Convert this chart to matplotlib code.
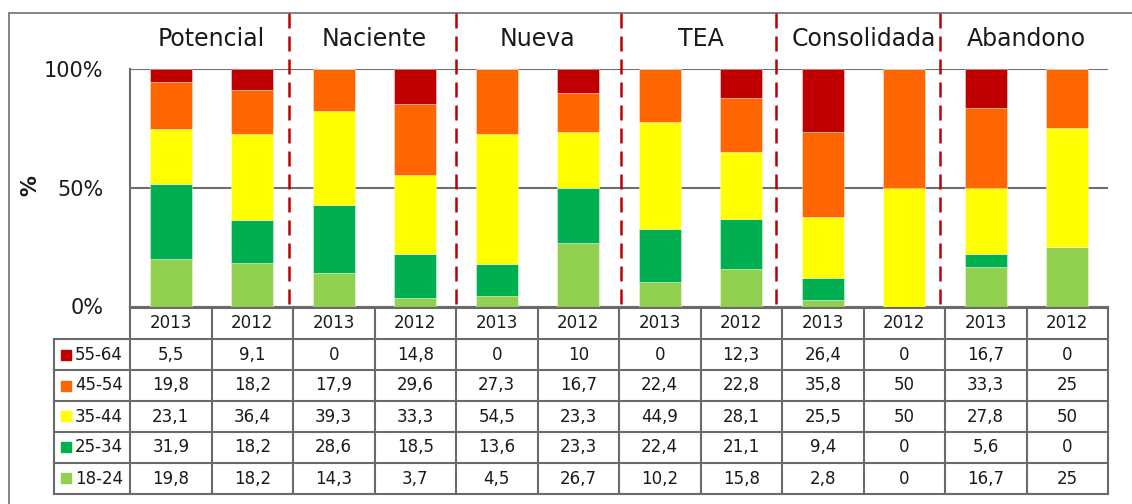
import matplotlib
matplotlib.use("Agg")
import matplotlib.pyplot as plt
from matplotlib.patches import Rectangle
from matplotlib.lines import Line2D

groups = ["Potencial", "Naciente", "Nueva", "TEA", "Consolidada", "Abandono"]
years = ["2013", "2012"] * 6
age_labels = ["55-64", "45-54", "35-44", "25-34", "18-24"]
age_colors = ["#C00000", "#FF6600", "#FFFF00", "#00B050", "#92D050"]

v_55_64 = [5.5, 9.1, 0, 14.8, 0, 10, 0, 12.3, 26.4, 0, 16.7, 0]
v_45_54 = [19.8, 18.2, 17.9, 29.6, 27.3, 16.7, 22.4, 22.8, 35.8, 50, 33.3, 25]
v_35_44 = [23.1, 36.4, 39.3, 33.3, 54.5, 23.3, 44.9, 28.1, 25.5, 50, 27.8, 50]
v_25_34 = [31.9, 18.2, 28.6, 18.5, 13.6, 23.3, 22.4, 21.1, 9.4, 0, 5.6, 0]
v_18_24 = [19.8, 18.2, 14.3, 3.7, 4.5, 26.7, 10.2, 15.8, 2.8, 0, 16.7, 25]
series = [v_55_64, v_45_54, v_35_44, v_25_34, v_18_24]

def fmt(v):
    s = ("%g" % v).replace(".", ",")
    return s

W, H = 1132, 504
fig = plt.figure(figsize=(W / 100, H / 100), dpi=100)
plt.rcParams['font.family'] = ['DejaVu Sans']
txtc = "#1a1a1a"
gridc = "#6e6e6e"

def fx(px):
    return px / W

def fy(py):
    return 1 - py / H

# outer frame
fig.patches.append(Rectangle((fx(9), fy(520)), fx(1150) - fx(9), fy(13) - fy(520),
                             transform=fig.transFigure, fill=False, ec="#7a7a7a", lw=1.3))

n = len(years)
ax_l, ax_r, ax_t, ax_b = 130, 1108, 69, 306.5
ax = fig.add_axes([fx(ax_l), fy(ax_b), fx(ax_r) - fx(ax_l), fy(ax_t) - fy(ax_b)])
ax.set_xlim(-0.5, n - 0.5)
ax.set_ylim(0, 100)

xs = list(range(n))
bottom = [0.0] * n
for vals, col in reversed(list(zip(series, age_colors))):
    ax.bar(xs, vals, width=0.52, bottom=bottom, color=col,
           edgecolor=(1, 1, 1, 0.45), linewidth=0.6, zorder=3)
    bottom = [b + v for b, v in zip(bottom, vals)]

ax.set_yticks([0, 50, 100])
ax.set_yticklabels(["0%", "50%", "100%"], fontsize=15, color=txtc)
ax.tick_params(axis="y", length=0, pad=19)
ax.set_xticks([])
ax.yaxis.grid(True, color=gridc, lw=1.5, zorder=1)
for s in ["top", "right"]:
    ax.spines[s].set_visible(False)
ax.spines["left"].set_color(gridc)
ax.spines["left"].set_linewidth(1.5)
ax.spines["bottom"].set_color(gridc)
ax.spines["bottom"].set_linewidth(1.5)

fig.text(fx(30), fy(186), "%", rotation=90, fontsize=15, fontweight="bold",
         ha="center", va="center", color=txtc)

# group titles
unit = (ax_r - ax_l) / n
for i, g in enumerate(groups):
    cx = 2 * i + 0.5
    fig.text(fx(ax_l + (cx + 0.5) * unit), fy(39), g, fontsize=17,
             ha="center", va="center", color=txtc)

# dashed separators
nudges = [-0.05, 0.0, 0.02, -0.07, -0.06]
for k in range(len(groups) - 1):
    xb = 2 * k + 1.5 + nudges[k]
    px = ax_l + (xb + 0.5) * unit
    fig.lines.append(Line2D([fx(px), fx(px)], [fy(13), fy(311)], transform=fig.transFigure,
                            color="#C00000", lw=1.8, dashes=(6, 3.2), zorder=5))

# table
lab_w = 76 / unit
t_top, t_bot = 308, 494
tax = fig.add_axes([fx(ax_l - 76), fy(t_bot), fx(ax_r) - fx(ax_l - 76), fy(t_top) - fy(t_bot)])
tax.set_xlim(-0.5 - lab_w, n - 0.5)
nrows = len(age_labels) + 1
tax.set_ylim(nrows, 0)
tax.axis("off")
lc = "#6a6a6a"
lw = 1.5
L = -0.5 - lab_w
R = n - 0.5
tax.plot([-0.5, R], [0, 0], color=lc, lw=lw, clip_on=False)
for r in range(1, nrows + 1):
    tax.plot([L, R], [r, r], color=lc, lw=lw, clip_on=False, solid_capstyle="projecting")
tax.plot([L, L], [1, nrows], color=lc, lw=lw, clip_on=False, solid_capstyle="projecting")
for k in range(n + 1):
    tax.plot([k - 0.5, k - 0.5], [0, nrows], color=lc, lw=lw, clip_on=False,
             solid_capstyle="projecting")

for i, y in enumerate(years):
    tax.text(i, 0.5, y, ha="center", va="center", fontsize=12, color=txtc)
for r, (lab, col, vals) in enumerate(zip(age_labels, age_colors, series)):
    yy = r + 1.5
    tax.plot([L + 12 / unit], [yy], marker="s", ms=7.3, color=col, mec=col, clip_on=False)
    tax.text(L + 21 / unit, yy, lab, ha="left", va="center", fontsize=12, color=txtc)
    for i, v in enumerate(vals):
        tax.text(i, yy, fmt(v), ha="center", va="center", fontsize=12, color=txtc)

fig.savefig("out.png", dpi=100)
